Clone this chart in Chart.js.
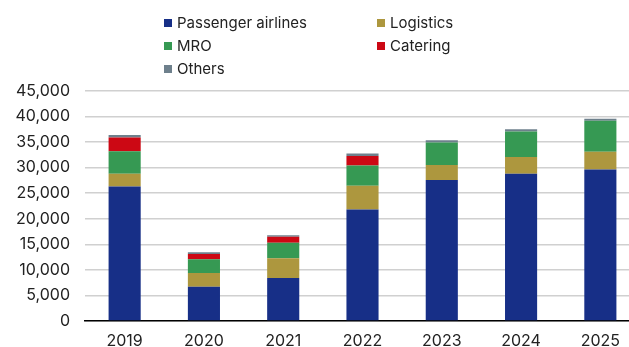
<!DOCTYPE html>
<html>
<head>
<meta charset="utf-8">
<script src="https://cdn.jsdelivr.net/npm/chart.js@4"></script>
<style>
  html, body { margin: 0; padding: 0; background: #fff; overflow: hidden; }
  #wrap { position: relative; width: 640px; height: 347px; }
  #legend {
    position: absolute; left: 164px; top: 11px;
    display: grid; grid-template-columns: 213px 150px;
    font-family: Inter, sans-serif; font-size: 15px; color: #222;
  }
  #legend div { display: flex; align-items: center; height: 23px; white-space: nowrap; }
  #legend span.box { width: 8px; height: 8px; margin-right: 5px; display: inline-block; }
</style>
</head>
<body>
<div id="wrap">
  <canvas id="chart" width="640" height="347"></canvas>
  <div id="legend"></div>
</div>
<script>
const years = ['2019', '2020', '2021', '2022', '2023', '2024', '2025'];
const passenger = [26300, 6700, 8400, 21800, 27600, 28800, 29650];
const logistics = [2500, 2700, 3900, 4650, 2900, 3300, 3450];
const mro = [4400, 2700, 3000, 3950, 4400, 5000, 6100];
const catering = [2700, 1000, 1200, 1900, 0, 0, 0];
const others = [500, 350, 300, 450, 450, 400, 350];

const series = [
    { label: 'Passenger airlines', data: passenger, color: '#172f87' },
    { label: 'Logistics', data: logistics, color: '#ad973e' },
    { label: 'MRO', data: mro, color: '#369953' },
    { label: 'Catering', data: catering, color: '#cc0814' },
    { label: 'Others', data: others, color: '#6e808c' }
];

// legend laid out as two columns, like the original
const legendEl = document.getElementById('legend');
series.forEach(s => {
    const item = document.createElement('div');
    item.innerHTML = `<span class="box" style="background:${s.color}"></span>${s.label}`;
    legendEl.appendChild(item);
});

const tickFont = { family: 'Inter', size: 16 };

const ctx = document.getElementById('chart').getContext('2d');
new Chart(ctx, {
    type: 'bar',
    data: {
        labels: years,
        datasets: series.map(s => ({
            label: s.label,
            data: s.data,
            backgroundColor: s.color,
            borderWidth: 0,
            barPercentage: 0.405,
            categoryPercentage: 1
        }))
    },
    options: {
        responsive: false,
        animation: false,
        layout: { padding: { top: 91, left: 0, right: 0, bottom: 0 } },
        plugins: {
            legend: { display: false },
            tooltip: { enabled: false }
        },
        scales: {
            x: {
                stacked: true,
                grid: { display: false, drawTicks: false },
                border: { color: '#000', width: 1.5 },
                ticks: { color: '#222', font: tickFont, padding: 11 },
                afterFit: s => { s.height = 26; }
            },
            y: {
                stacked: true,
                min: 0,
                max: 45000,
                grid: { color: '#d0d0d0', lineWidth: 1.5, drawTicks: false },
                border: { display: false },
                ticks: {
                    stepSize: 5000,
                    color: '#222',
                    padding: 15,
                    font: tickFont,
                    callback: v => v.toLocaleString('en-US')
                },
                afterFit: s => { s.width = 85; }
            }
        }
    }
});
</script>
</body>
</html>
